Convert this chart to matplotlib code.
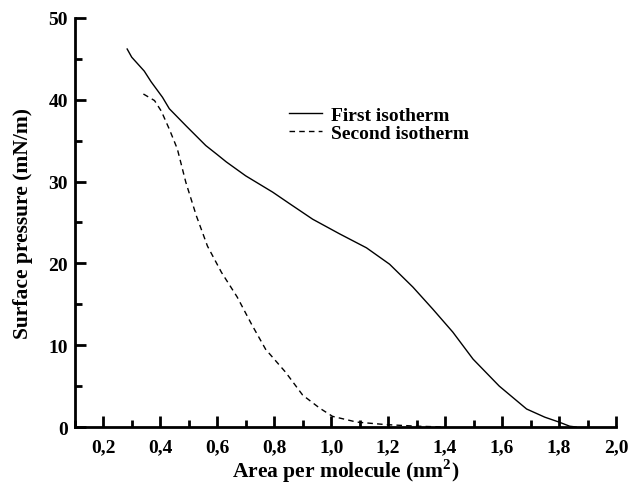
import numpy as np
from matplotlib import pyplot as plt
from matplotlib.ticker import MultipleLocator, FuncFormatter

plt.rcParams['font.family'] = ['Liberation Serif', 'DejaVu Serif']
plt.rcParams['font.weight'] = 'bold'
plt.rcParams['mathtext.fontset'] = 'custom'
plt.rcParams['mathtext.rm'] = 'Liberation Serif:bold'
plt.rcParams['mathtext.bf'] = 'Liberation Serif:bold'

# first isotherm (solid)
area1 = [0.284, 0.30, 0.344, 0.368, 0.408, 0.432, 0.491, 0.56, 0.60, 0.632, 0.70, 0.795,
         0.854, 0.935, 1.03, 1.124, 1.205, 1.287, 1.357, 1.427, 1.498, 1.59, 1.686,
         1.75, 1.80, 1.837, 1.86]
press1 = [46.2, 45.2, 43.5, 42.2, 40.3, 38.9, 36.8, 34.4, 33.3, 32.4, 30.7, 28.7,
          27.3, 25.4, 23.6, 21.9, 19.9, 17.1, 14.4, 11.6, 8.3, 5.0, 2.2,
          1.2, 0.6, 0.1, 0.0]

# second isotherm (dashed)
area2 = [0.341, 0.38, 0.404, 0.432, 0.46, 0.49, 0.527, 0.566, 0.615, 0.67, 0.72, 0.77,
         0.84, 0.90, 0.96, 1.005, 1.09, 1.19, 1.30, 1.40]
press2 = [40.7, 39.9, 38.6, 36.4, 34.0, 29.9, 25.8, 22.1, 18.9, 15.9, 12.6, 9.5,
          6.7, 3.9, 2.3, 1.3, 0.6, 0.3, 0.1, 0.0]

fig = plt.figure(figsize=(6.28, 4.85), dpi=100)
ax = fig.add_axes([0.119, 0.1175, 0.862, 0.8435])

ax.plot(area1, press1, color='black', lw=1.0, label='First isotherm')
ax.plot(area2, press2, color='black', lw=1.0, ls=(0, (4, 3)), label='Second isotherm')

ax.set_xlim(0.1, 2.0)
ax.set_ylim(0, 50)
ax.xaxis.set_major_locator(MultipleLocator(0.2))
ax.xaxis.set_minor_locator(MultipleLocator(0.1))
ax.yaxis.set_major_locator(MultipleLocator(10))
ax.yaxis.set_minor_locator(MultipleLocator(5))
ax.xaxis.set_major_formatter(FuncFormatter(lambda v, p: ('%.1f' % v).replace('.', ',')))

for s in ['top', 'right']:
    ax.spines[s].set_visible(False)
for s in ['left', 'bottom']:
    ax.spines[s].set_linewidth(2)
ax.tick_params(which='major', direction='in', length=8, width=2, labelsize=14)
ax.tick_params(axis='x', which='major', pad=8)
ax.tick_params(axis='y', which='major', pad=5)
ax.tick_params(which='minor', direction='in', length=5, width=2)

ax.set_xlabel('Area per molecule (nm$^{2}$)', fontsize=15.5, fontweight='bold', labelpad=1)
ax.set_ylabel('Surface pressure (mN/m)', fontsize=15.5, fontweight='bold', labelpad=11)

leg = ax.legend(loc='upper left', bbox_to_anchor=(0.37, 0.818), frameon=False,
                prop={'weight': 'bold', 'size': 14}, handlelength=1.7,
                handletextpad=0.5, labelspacing=0.05, borderpad=0.2)

fig.savefig('out.png', dpi=100)
